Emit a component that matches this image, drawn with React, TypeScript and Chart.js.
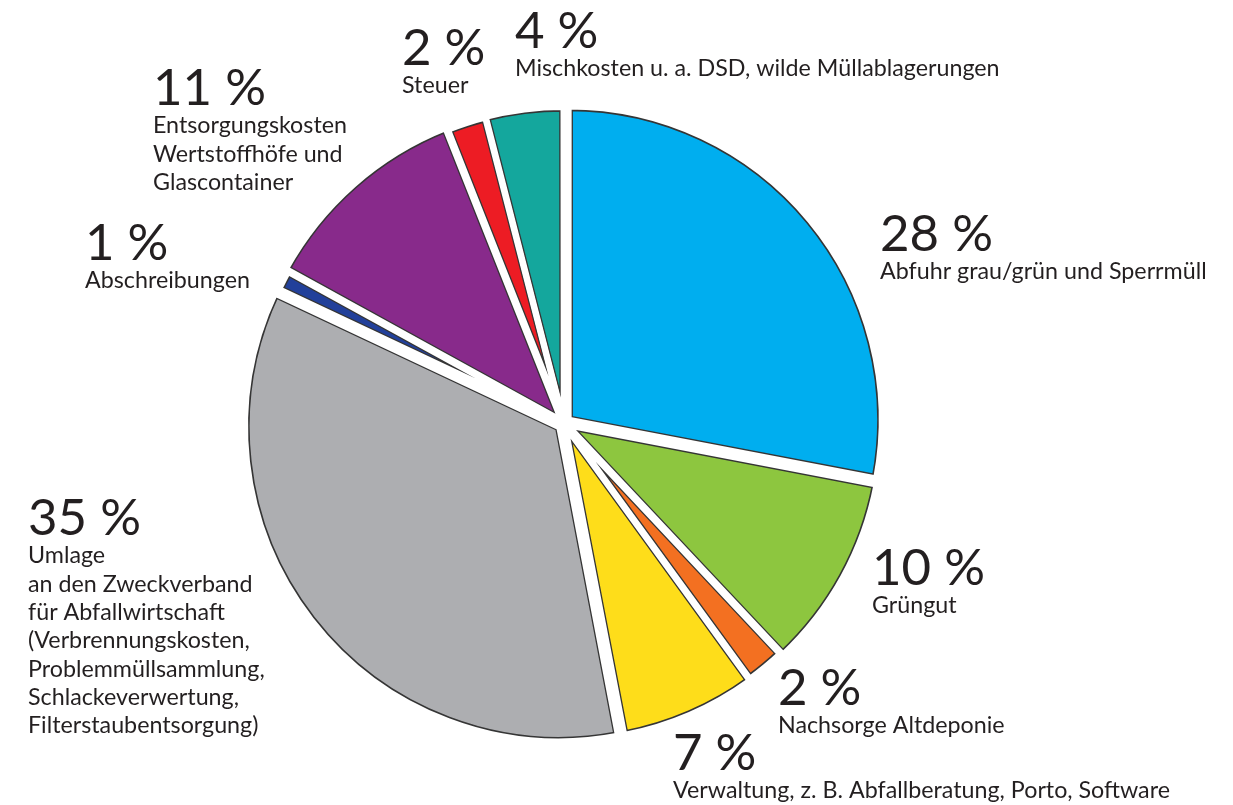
import React, { useEffect, useRef } from 'react';
import { Chart, registerables } from 'chart.js';

Chart.register(...registerables);

// ---- data ----
const categories = [
  'Abfuhr grau/grün und Sperrmüll',
  'Grüngut',
  'Nachsorge Altdeponie',
  'Verwaltung',
  'Umlage Zweckverband',
  'Abschreibungen',
  'Entsorgungskosten',
  'Steuer',
  'Mischkosten',
];
const shares = [28, 10, 2, 7, 35, 1, 11, 2, 4];
const sliceColors = [
  '#00aeef',
  '#8dc63f',
  '#f37021',
  '#fedd1a',
  '#adaeb1',
  '#22409a',
  '#882a8b',
  '#ed1c24',
  '#14a79d',
];
const descriptionLines: string[][] = [
  ['Abfuhr grau/grün und Sperrmüll'],
  ['Grüngut'],
  ['Nachsorge Altdeponie'],
  ['Verwaltung, z. B. Abfallberatung, Porto, Software'],
  [
    'Umlage',
    'an den Zweckverband',
    'für Abfallwirtschaft',
    '(Verbrennungskosten,',
    'Problemmüllsammlung,',
    'Schlackeverwertung,',
    'Filterstaubentsorgung)',
  ],
  ['Abschreibungen'],
  ['Entsorgungskosten', 'Wertstoffhöfe und', 'Glascontainer'],
  ['Steuer'],
  ['Mischkosten u. a. DSD, wilde Müllablagerungen'],
];

// ---- layout / style ----
const sliceOffsets = [24, 16, 6, 11, 24, 4, 16, 6, 8];
const labelAnchors: [number, number][] = [
  [880, 251],
  [872, 585],
  [778, 705],
  [673, 770],
  [28, 535],
  [85, 260],
  [153, 105],
  [402, 65],
  [515, 48],
];
const LINE_HEIGHT = 28.3;
const TEXT_COLOR = '#231f20';
const FONT_FAMILY = 'Lato, "Open Sans", sans-serif';
const OUTLINE_COLOR = '#353535';
const GAP = 3;
const OUTLINE = 1.3;

function fitSize(ctx: CanvasRenderingContext2D, sample: string, target: number, weight: string) {
  ctx.font = `${weight} 100px ${FONT_FAMILY}`;
  const w = ctx.measureText(sample).width;
  return (100 * target) / w;
}

const gapPlugin = {
  id: 'gapPlugin',
  afterDatasetsDraw(chart: any) {
    const ctx = chart.ctx;
    const meta = chart.getDatasetMeta(0);
    meta.data.forEach((arc: any) => {
      const orig = arc.options;
      arc.options = {
        ...orig,
        backgroundColor: 'rgba(0,0,0,0)',
        borderColor: '#ffffff',
        borderWidth: GAP * 2,
        borderAlign: 'center',
        borderJoinStyle: 'miter',
      };
      arc.draw(ctx);
      arc.options = orig;
    });
  },
};

const labelPlugin = {
  id: 'labelPlugin',
  afterDraw(chart: any) {
    const ctx: CanvasRenderingContext2D = chart.ctx;
    ctx.save();
    const numSize = fitSize(ctx, '35 %', 113, '400');
    const descSize = fitSize(ctx, 'Entsorgungskosten', 194, '400');
    ctx.fillStyle = TEXT_COLOR;
    ctx.textAlign = 'left';
    ctx.textBaseline = 'alphabetic';
    shares.forEach((v, i) => {
      const [x, y] = labelAnchors[i];
      ctx.font = `400 ${numSize}px ${FONT_FAMILY}`;
      ctx.fillText(`${v} %`, x, y);
      ctx.font = `400 ${descSize}px ${FONT_FAMILY}`;
      descriptionLines[i].forEach((line, j) => {
        ctx.fillText(line, x, y + LINE_HEIGHT * (j + 1));
      });
    });
    ctx.restore();
  },
};

export default function App() {
  const canvasRef = useRef<HTMLCanvasElement | null>(null);

  useEffect(() => {
    if (!canvasRef.current) return;
    const chart = new Chart(canvasRef.current, {
      type: 'pie',
      data: {
        labels: categories,
        datasets: [
          {
            data: shares,
            backgroundColor: sliceColors,
            borderColor: OUTLINE_COLOR,
            borderWidth: GAP + OUTLINE,
            borderAlign: 'inner',
            offset: sliceOffsets,
            hoverOffset: 0,
          } as any,
        ],
      },
      options: {
        responsive: false,
        animation: false,
        events: [],
        radius: 313,
        layout: { padding: { left: 0, right: 105, top: 42, bottom: 0 } },
        plugins: {
          legend: { display: false },
          tooltip: { enabled: false },
          title: { display: false },
        },
      } as any,
      plugins: [gapPlugin, labelPlugin],
    });
    return () => chart.destroy();
  }, []);

  return (
    <div style={{ position: 'fixed', left: 0, top: 0, width: 1233, height: 805, background: '#ffffff' }}>
      <canvas ref={canvasRef} width={1233} height={805} style={{ display: 'block' }} />
    </div>
  );
}
